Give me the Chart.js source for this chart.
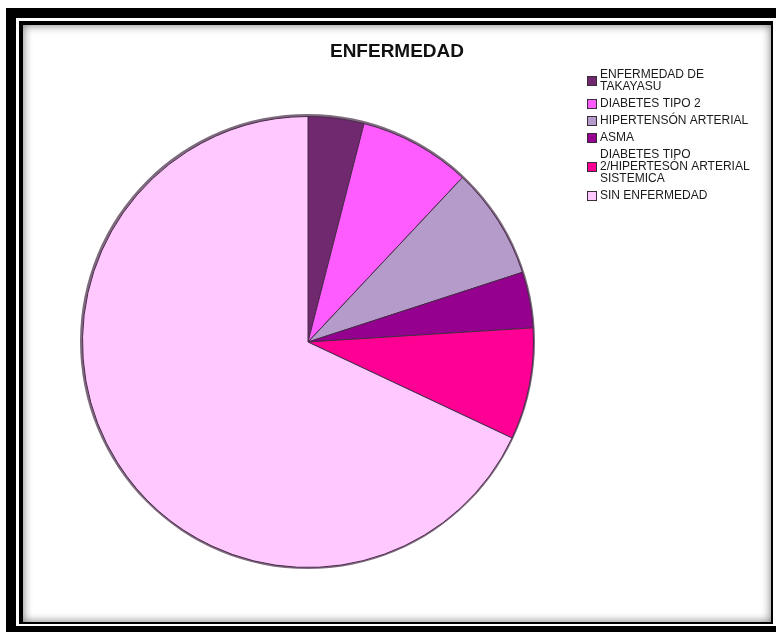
<!DOCTYPE html>
<html>
<head>
<meta charset="utf-8">
<script src="https://cdn.jsdelivr.net/npm/chart.js@4.4.1/dist/chart.umd.min.js"></script>
<style>
  html, body { margin: 0; padding: 0; background: #fff; }
  body { width: 776px; height: 635px; position: relative; overflow: hidden; }
  .marco { position: absolute; left: 6px; top: 8px; width: 770px; height: 624px; background: #000; }
  .filete { position: absolute; left: 16px; top: 18px; width: 760px; height: 608px; background: #fff; }
  .interior { position: absolute; left: 19px; top: 21px; width: 754px; height: 603px; background: #000; }
  .lienzo {
    position: absolute; left: 23px; top: 25px; width: 748px; height: 597px;
    background: #fff; box-shadow: inset 0 0 10px rgba(0, 0, 0, 0.55);
  }
  canvas { position: absolute; left: 0; top: 0; }
</style>
</head>
<body>
<div class="marco"></div>
<div class="filete"></div>
<div class="interior"></div>
<div class="lienzo"><canvas id="grafico" width="748" height="597"></canvas></div>
<script>
"use strict";

const titulo = "ENFERMEDAD";

const categorias = [
  "ENFERMEDAD DE TAKAYASU",
  "DIABETES TIPO 2",
  "HIPERTENSÓN ARTERIAL",
  "ASMA",
  "DIABETES TIPO 2/HIPERTESÓN ARTERIAL SISTEMICA",
  "SIN ENFERMEDAD",
];

// cortes de línea tal como salen en la leyenda
const lineasLeyenda = [
  ["ENFERMEDAD DE", "TAKAYASU"],
  ["DIABETES TIPO 2"],
  ["HIPERTENSÓN ARTERIAL"],
  ["ASMA"],
  ["DIABETES TIPO", "2/HIPERTESÓN ARTERIAL", "SISTEMICA"],
  ["SIN ENFERMEDAD"],
];

const casos = [1, 2, 2, 1, 2, 17];

const colores = ["#70286f", "#ff5cff", "#b59bc9", "#95008f", "#ff0094", "#ffc8ff"];

// sombra gris alrededor del pastel
const bordePastel = {
  id: "bordePastel",
  beforeDatasetsDraw(chart) {
    const arc = chart.getDatasetMeta(0).data[0];
    if (!arc) return;
    const ctx = chart.ctx;
    ctx.save();
    ctx.beginPath();
    ctx.arc(arc.x - 0.5, arc.y - 0.5, arc.outerRadius + 2, 0, Math.PI * 2);
    ctx.fillStyle = "#7d6b7d";
    ctx.fill();
    ctx.restore();
  },
};

// título y leyenda a la derecha
const textos = {
  id: "textos",
  afterDraw(chart) {
    const ctx = chart.ctx;
    ctx.save();
    ctx.fillStyle = "#111";
    ctx.font = "bold 19px 'Liberation Sans', Arial, sans-serif";
    ctx.textAlign = "center";
    ctx.textBaseline = "middle";
    ctx.fillText(titulo, 374, 27);

    ctx.font = "12px 'Liberation Sans', Arial, sans-serif";
    ctx.textAlign = "left";
    const alto = 12;
    const hueco = 5;
    let y = 44;
    lineasLeyenda.forEach((lineas, i) => {
      const centro = y + (lineas.length * alto) / 2;
      ctx.fillStyle = chart.data.datasets[0].backgroundColor[i];
      ctx.fillRect(564, centro - 5, 10, 10);
      ctx.strokeStyle = "#3a2a3a";
      ctx.lineWidth = 1;
      ctx.strokeRect(564.5, centro - 4.5, 9, 9);
      ctx.fillStyle = "#1a1a1a";
      lineas.forEach((l, j) => {
        ctx.fillText(l, 577, y + alto / 2 + j * alto);
      });
      y += lineas.length * alto + hueco;
    });
    ctx.restore();
  },
};

new Chart(document.getElementById("grafico"), {
  type: "pie",
  data: {
    labels: categorias,
    datasets: [
      {
        data: casos,
        backgroundColor: colores,
        borderColor: "#4b2a4b",
        borderWidth: 1,
      },
    ],
  },
  options: {
    responsive: false,
    animation: false,
    layout: { padding: { left: 59, right: 237, top: 91, bottom: 54 } },
    plugins: {
      legend: { display: false },
      title: { display: false },
      tooltip: { enabled: false },
    },
  },
  plugins: [bordePastel, textos],
});
</script>
</body>
</html>
